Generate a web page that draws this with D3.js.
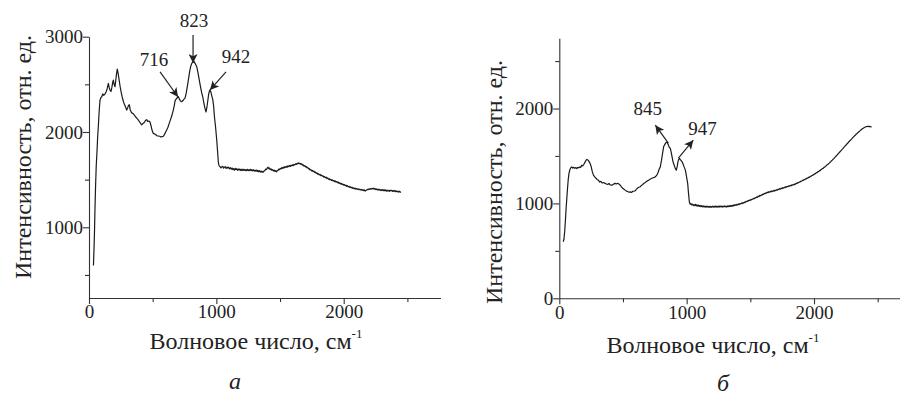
<!DOCTYPE html>
<html>
<head>
<meta charset="utf-8">
<script src="https://cdn.jsdelivr.net/npm/d3@7"></script>
<style>
  body { margin: 0; background: #fff; }
  svg { display: block; }
</style>
</head>
<body>
<svg id="chart" width="900" height="396"></svg>
<script>
// spectrum a: [wavenumber cm-1, intensity]
const leftSpectrum = [[35,600],[40,800],[44,1000],[47,1200],[52,1450],[57,1650],[63,1800],[68,1950],[73,2050],[79,2200],[86,2330],[93,2360],[100,2370],[108,2400],[116,2385],[126,2400],[134,2420],[142,2450],[152,2510],[158,2470],[165,2440],[173,2425],[180,2470],[186,2520],[191,2545],[197,2500],[204,2475],[210,2540],[216,2610],[222,2660],[228,2620],[235,2560],[244,2480],[252,2420],[260,2370],[270,2320],[278,2290],[288,2260],[296,2230],[303,2250],[310,2280],[317,2285],[324,2230],[335,2200],[345,2195],[355,2180],[365,2160],[375,2145],[385,2130],[395,2110],[405,2090],[414,2075],[424,2090],[434,2100],[443,2120],[453,2130],[461,2110],[470,2115],[479,2105],[488,2060],[497,2010],[505,1985],[515,1980],[525,1970],[535,1960],[544,1958],[555,1955],[565,1948],[574,1952],[584,1955],[593,1975],[602,2000],[610,2020],[620,2050],[630,2090],[640,2130],[650,2170],[662,2230],[670,2280],[676,2330],[684,2345],[693,2360],[702,2370],[710,2345],[718,2325],[728,2318],[738,2330],[746,2345],[754,2355],[762,2400],[770,2460],[780,2545],[790,2630],[799,2690],[807,2720],[816,2735],[825,2740],[835,2715],[846,2685],[856,2620],[866,2545],[876,2470],[885,2410],[893,2370],[901,2310],[910,2250],[919,2210],[926,2260],[932,2320],[940,2400],[946,2430],[950,2440],[957,2420],[964,2380],[972,2340],[978,2280],[985,2160],[994,2050],[1003,1915],[1010,1790],[1016,1675],[1022,1645],[1029,1636],[1036,1622],[1043,1635],[1050,1640],[1057,1620],[1064,1632],[1070,1636],[1077,1618],[1084,1632],[1090,1620],[1097,1630],[1104,1612],[1112,1625],[1118,1610],[1124,1622],[1130,1605],[1136,1615],[1142,1600],[1148,1618],[1154,1606],[1160,1615],[1166,1598],[1172,1612],[1178,1600],[1184,1612],[1190,1596],[1196,1608],[1202,1595],[1208,1610],[1214,1598],[1220,1607],[1226,1594],[1232,1605],[1238,1596],[1244,1608],[1250,1594],[1256,1604],[1262,1596],[1268,1608],[1274,1594],[1280,1604],[1286,1592],[1292,1604],[1298,1590],[1304,1600],[1310,1588],[1316,1600],[1322,1586],[1328,1596],[1334,1582],[1340,1594],[1346,1580],[1352,1590],[1358,1578],[1364,1586],[1370,1580],[1376,1592],[1382,1598],[1388,1610],[1394,1606],[1400,1622],[1406,1630],[1412,1615],[1418,1622],[1424,1605],[1430,1612],[1436,1598],[1442,1605],[1448,1592],[1454,1600],[1460,1586],[1466,1594],[1472,1582],[1478,1595],[1484,1598],[1490,1610],[1496,1604],[1502,1618],[1508,1612],[1514,1626],[1520,1618],[1526,1632],[1532,1622],[1538,1636],[1544,1628],[1550,1640],[1556,1630],[1562,1645],[1568,1636],[1574,1648],[1580,1640],[1586,1652],[1592,1645],[1598,1656],[1604,1648],[1610,1660],[1616,1655],[1622,1666],[1628,1660],[1634,1672],[1640,1666],[1646,1676],[1652,1668],[1658,1672],[1664,1660],[1670,1666],[1676,1652],[1682,1656],[1688,1642],[1694,1648],[1700,1634],[1706,1638],[1712,1624],[1718,1628],[1724,1612],[1730,1616],[1736,1602],[1742,1606],[1748,1592],[1754,1597],[1760,1585],[1766,1590],[1772,1576],[1778,1580],[1784,1566],[1790,1572],[1796,1558],[1802,1562],[1808,1550],[1814,1556],[1820,1542],[1826,1548],[1832,1536],[1838,1540],[1844,1526],[1850,1532],[1856,1520],[1862,1526],[1868,1512],[1874,1518],[1880,1504],[1886,1510],[1892,1498],[1898,1504],[1904,1492],[1910,1498],[1916,1486],[1922,1492],[1928,1480],[1934,1486],[1940,1474],[1946,1480],[1952,1468],[1958,1474],[1964,1460],[1970,1466],[1976,1454],[1982,1460],[1988,1448],[1994,1454],[2000,1442],[2006,1448],[2012,1436],[2018,1442],[2024,1430],[2030,1436],[2036,1424],[2042,1430],[2048,1418],[2054,1425],[2060,1414],[2066,1420],[2072,1408],[2078,1414],[2084,1404],[2090,1410],[2096,1400],[2102,1406],[2108,1398],[2114,1404],[2120,1394],[2126,1400],[2132,1392],[2138,1398],[2144,1388],[2150,1394],[2156,1386],[2162,1392],[2168,1380],[2174,1386],[2180,1392],[2186,1398],[2192,1394],[2198,1404],[2204,1398],[2210,1406],[2216,1400],[2222,1408],[2228,1402],[2234,1410],[2240,1400],[2246,1406],[2252,1396],[2258,1402],[2264,1392],[2270,1400],[2276,1390],[2282,1398],[2288,1388],[2294,1396],[2300,1386],[2306,1394],[2312,1384],[2318,1394],[2324,1382],[2330,1392],[2336,1380],[2342,1390],[2348,1380],[2354,1388],[2360,1378],[2366,1390],[2372,1382],[2378,1388],[2384,1376],[2390,1386],[2396,1376],[2402,1386],[2408,1374],[2414,1382],[2420,1372],[2426,1380],[2432,1370],[2438,1378],[2444,1368],[2450,1372]];

// spectrum б
const rightSpectrum = [[31,596],[36,620],[42,700],[48,820],[54,960],[58,1035],[64,1150],[70,1250],[76,1316],[84,1360],[92,1378],[98,1385],[106,1372],[114,1380],[122,1370],[130,1378],[137,1368],[145,1380],[153,1375],[161,1385],[168,1380],[176,1403],[184,1395],[192,1410],[200,1430],[208,1450],[216,1463],[224,1458],[234,1440],[242,1421],[250,1390],[258,1340],[268,1298],[278,1280],[288,1265],[298,1250],[307,1245],[317,1225],[327,1232],[337,1215],[347,1220],[360,1211],[370,1205],[380,1200],[390,1210],[400,1195],[413,1193],[423,1200],[431,1208],[439,1211],[448,1205],[458,1212],[468,1205],[478,1193],[488,1175],[498,1160],[508,1150],[517,1140],[527,1130],[537,1125],[547,1118],[557,1122],[567,1115],[577,1128],[587,1130],[596,1133],[606,1150],[616,1162],[625,1170],[635,1175],[645,1190],[655,1200],[665,1212],[675,1220],[688,1235],[701,1245],[712,1255],[724,1262],[735,1270],[746,1275],[754,1280],[764,1295],[774,1320],[784,1360],[793,1385],[802,1450],[810,1520],[819,1596],[828,1620],[837,1640],[846,1648],[855,1620],[864,1590],[872,1579],[880,1530],[887,1480],[893,1438],[900,1410],[908,1380],[914,1358],[919,1351],[926,1390],[932,1440],[938,1465],[943,1474],[950,1462],[957,1450],[964,1438],[972,1415],[980,1385],[990,1351],[998,1290],[1008,1211],[1015,1100],[1021,1017],[1028,992],[1034,998],[1040,985],[1046,992],[1052,978],[1058,986],[1064,976],[1070,990],[1076,974],[1082,984],[1088,970],[1094,982],[1100,968],[1106,978],[1112,966],[1118,976],[1124,964],[1130,974],[1136,962],[1142,972],[1148,962],[1154,970],[1160,960],[1166,970],[1172,960],[1178,968],[1184,958],[1190,968],[1196,960],[1202,970],[1208,960],[1214,970],[1220,962],[1226,972],[1232,962],[1238,970],[1244,960],[1250,970],[1256,962],[1262,974],[1268,964],[1274,972],[1280,962],[1286,972],[1292,964],[1298,974],[1304,964],[1310,972],[1316,962],[1322,974],[1328,966],[1334,976],[1340,966],[1346,978],[1352,970],[1358,980],[1364,972],[1370,984],[1376,976],[1382,986],[1388,980],[1394,990],[1400,984],[1406,994],[1412,988],[1418,998],[1424,994],[1430,1004],[1436,998],[1442,1010],[1448,1004],[1454,1014],[1460,1010],[1466,1022],[1472,1018],[1478,1028],[1484,1024],[1490,1034],[1496,1030],[1502,1040],[1508,1036],[1514,1046],[1520,1044],[1526,1054],[1532,1050],[1538,1060],[1544,1058],[1550,1068],[1556,1064],[1562,1076],[1568,1072],[1574,1084],[1580,1080],[1586,1090],[1592,1088],[1598,1098],[1604,1094],[1610,1106],[1616,1102],[1622,1112],[1628,1108],[1634,1118],[1640,1114],[1646,1124],[1652,1118],[1658,1128],[1664,1122],[1670,1132],[1676,1126],[1682,1136],[1688,1130],[1694,1140],[1700,1134],[1706,1144],[1712,1140],[1718,1150],[1724,1146],[1730,1156],[1736,1150],[1742,1160],[1748,1156],[1754,1166],[1760,1160],[1766,1170],[1772,1166],[1778,1176],[1784,1172],[1790,1180],[1796,1176],[1802,1186],[1808,1182],[1814,1190],[1820,1186],[1826,1196],[1832,1192],[1838,1200],[1844,1196],[1850,1206],[1856,1204],[1862,1214],[1868,1210],[1874,1220],[1880,1218],[1886,1228],[1892,1226],[1898,1236],[1904,1234],[1910,1244],[1916,1242],[1922,1252],[1928,1250],[1934,1260],[1940,1258],[1946,1268],[1952,1266],[1958,1276],[1964,1274],[1970,1284],[1976,1284],[1982,1294],[1988,1294],[1994,1304],[2000,1304],[2006,1314],[2012,1314],[2018,1324],[2024,1324],[2030,1334],[2036,1334],[2042,1346],[2048,1346],[2054,1356],[2060,1358],[2066,1368],[2072,1370],[2078,1380],[2084,1382],[2090,1392],[2096,1396],[2102,1406],[2108,1410],[2114,1420],[2120,1424],[2126,1434],[2132,1440],[2138,1450],[2144,1456],[2150,1466],[2156,1472],[2162,1482],[2168,1490],[2174,1500],[2180,1508],[2186,1518],[2192,1526],[2198,1536],[2204,1544],[2210,1554],[2216,1562],[2222,1572],[2228,1580],[2234,1590],[2240,1598],[2246,1608],[2252,1616],[2258,1626],[2264,1634],[2270,1644],[2276,1652],[2282,1662],[2288,1668],[2294,1678],[2300,1686],[2306,1696],[2312,1702],[2318,1712],[2324,1718],[2330,1728],[2336,1734],[2342,1744],[2348,1750],[2354,1758],[2360,1764],[2366,1772],[2372,1778],[2378,1784],[2384,1790],[2390,1796],[2396,1800],[2402,1805],[2408,1808],[2414,1810],[2420,1812],[2426,1812],[2432,1810],[2438,1812],[2446,1808],[2452,1804]];

const xMajorTicks = [0, 1000, 2000];
const xMinorTicks = [500, 1500, 2500];
const leftYMajor = [1000, 2000, 3000];
const leftYMinor = [500, 1500, 2500];
const rightYMajor = [0, 1000, 2000];
const rightYMinor = [500, 1500, 2500];

// peak labels: text, arrow tip, arrow tail, label anchor (data units)
const leftPeaks = [
  {label: "716", tip: [699, 2367], tail: [558, 2630], at: [511, 2693]},
  {label: "823", tip: [817, 2724], tail: [817, 3018], at: [825, 3102]},
  {label: "942", tip: [950, 2441], tail: [1076, 2630], at: [1155, 2724]}
];
const rightPeaks = [
  {label: "845", tip: [754, 1824], tail: [856, 1635], at: [694, 1929]},
  {label: "947", tip: [1052, 1666], tail: [935, 1477], at: [1124, 1719]}
];

const xTitle = "Волновое число, см";
const yTitle = "Интенсивность, отн. ед.";

const FONT = "'Liberation Serif', 'Times New Roman', Tinos, 'DejaVu Serif', serif";

const svg = d3.select("#chart").style("font-family", FONT);

svg.append("defs").append("marker")
  .attr("id", "head")
  .attr("viewBox", "0 0 10 10")
  .attr("refX", 10).attr("refY", 5)
  .attr("markerWidth", 9).attr("markerHeight", 9)
  .attr("markerUnits", "userSpaceOnUse")
  .attr("orient", "auto")
  .append("path")
  .attr("d", "M0,0 L10,5 L0,10 L2.5,5 Z")
  .attr("fill", "#222");

function drawPanel(p) {
  const x = d3.scaleLinear().domain([0, 2760]).range([p.left, p.left + 351.5]);
  const y = d3.scaleLinear().domain(p.yDomain).range([p.bottom, p.top]);
  const g = svg.append("g");

  // x axis
  const xa = g.append("g").attr("transform", `translate(0,${p.bottom})`)
    .call(d3.axisBottom(x).tickValues(xMajorTicks).tickSize(6).tickSizeOuter(0).tickFormat(d3.format("d")));
  g.append("g").attr("transform", `translate(0,${p.bottom})`)
    .call(d3.axisBottom(x).tickValues(xMinorTicks).tickSize(4).tickSizeOuter(0).tickFormat(""))
    .select(".domain").remove();
  xa.selectAll("text").attr("y", 7);

  // y axis
  const ya = g.append("g").attr("transform", `translate(${p.left},0)`)
    .call(d3.axisLeft(y).tickValues(p.yMajor).tickSize(6).tickSizeOuter(0).tickFormat(d3.format("d")));
  g.append("g").attr("transform", `translate(${p.left},0)`)
    .call(d3.axisLeft(y).tickValues(p.yMinor).tickSize(4).tickSizeOuter(0).tickFormat(""))
    .select(".domain").remove();
  ya.selectAll("text").attr("x", -6);

  g.selectAll(".domain, .tick line").attr("stroke", "#333").attr("stroke-width", 1.1);
  g.selectAll("g").attr("font-family", null).attr("font-size", null);
  g.selectAll(".tick text").attr("fill", "#222").style("font-size", "19px");

  // spectrum line
  const line = d3.line().x(d => x(d[0])).y(d => y(d[1]));
  g.append("path").datum(p.data)
    .attr("d", line)
    .attr("fill", "none")
    .attr("stroke", "#1a1a1a")
    .attr("stroke-width", 1.2)
    .attr("stroke-linejoin", "round");

  // peak arrows and labels
  const pk = g.selectAll(".peak").data(p.peaks).enter().append("g").attr("class", "peak");
  pk.append("line")
    .attr("x1", d => x(d.tail[0])).attr("y1", d => y(d.tail[1]))
    .attr("x2", d => x(d.tip[0])).attr("y2", d => y(d.tip[1]))
    .attr("stroke", "#222").attr("stroke-width", 1.2)
    .attr("marker-end", "url(#head)");
  pk.append("text")
    .attr("x", d => x(d.at[0])).attr("y", d => y(d.at[1]))
    .attr("text-anchor", "middle")
    .attr("fill", "#222")
    .style("font-size", "19px")
    .text(d => d.label);

  // titles
  const xt = g.append("text")
    .attr("x", p.xTitleX).attr("y", p.xTitleY)
    .attr("text-anchor", "middle")
    .attr("fill", "#222")
    .style("font-size", "24px");
  xt.append("tspan").text(xTitle);
  xt.append("tspan").style("font-size", "13px").attr("dy", -11).text("-1");

  g.append("text")
    .attr("transform", `translate(${p.yTitleX},${p.yTitleY}) rotate(-90)`)
    .attr("text-anchor", "middle")
    .attr("fill", "#222")
    .style("font-size", "24px")
    .text(yTitle);

  g.append("text")
    .attr("x", p.tagX).attr("y", p.tagY)
    .attr("text-anchor", "middle")
    .attr("fill", "#222")
    .style("font-size", "24px")
    .style("font-style", "italic")
    .text(p.tag);
}

drawPanel({
  data: leftSpectrum, peaks: leftPeaks,
  left: 89, bottom: 298, top: 36.7, yDomain: [258, 3000],
  yMajor: leftYMajor, yMinor: leftYMinor,
  xTitleX: 256, xTitleY: 349, yTitleX: 31, yTitleY: 157,
  tag: "а", tagX: 235, tagY: 389
});

drawPanel({
  data: rightSpectrum, peaks: rightPeaks,
  left: 559.3, bottom: 298.3, top: 38.3, yDomain: [0, 2740],
  yMajor: rightYMajor, yMinor: rightYMinor,
  xTitleX: 713, xTitleY: 353, yTitleX: 502, yTitleY: 182,
  tag: "б", tagX: 723, tagY: 391
});
</script>
</body>
</html>
